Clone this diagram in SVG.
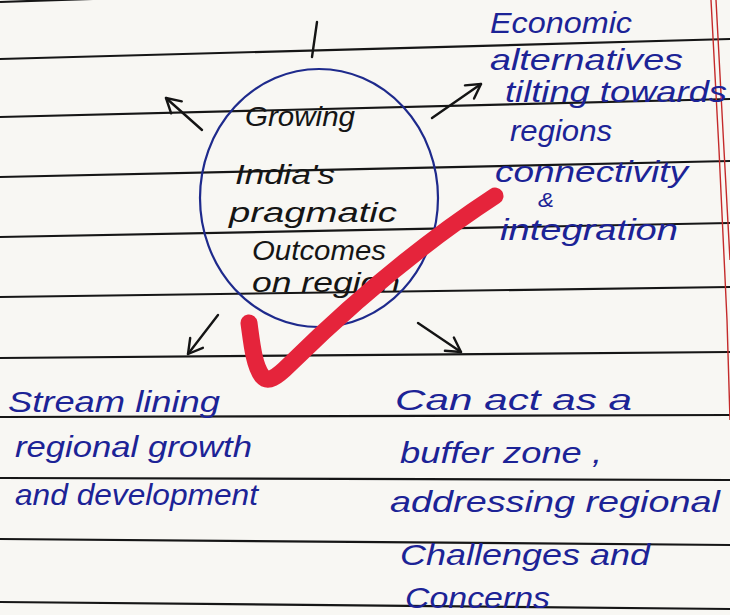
<svg xmlns="http://www.w3.org/2000/svg" width="730" height="615" viewBox="0 0 730 615">
  <defs>
    <style>
      .paper { fill: #f8f7f3; }
      .rule { stroke: #161616; stroke-width: 2.2; fill: none; }
      .margin { stroke: #c42a2a; stroke-width: 1.4; fill: none; }
      .conn { stroke: #141414; stroke-width: 2.4; fill: none; stroke-linecap: round; }
      .ink { font-family: "Liberation Sans", "DejaVu Sans", sans-serif; font-style: italic; }
      .blue { fill: #1c2396; font-size: 29px; }
      .black { fill: #151515; font-size: 27px; }
      .circle { fill: none; stroke: #1e2a8c; stroke-width: 2.2; }
      .check { fill: none; stroke: #e5243b; stroke-width: 17; stroke-linecap: round; stroke-linejoin: round; }
    </style>
    <marker id="head" viewBox="0 0 20 20" refX="17" refY="10" markerWidth="20" markerHeight="20" markerUnits="userSpaceOnUse" orient="auto">
      <path d="M3,2 L17,10 L3,18" fill="none" stroke="#141414" stroke-width="2.4" stroke-linecap="round" stroke-linejoin="round"/>
    </marker>
  </defs>

  <rect class="paper" x="0" y="0" width="730" height="615"/>

  <g id="ruled-lines">
    <path class="rule" d="M0,2 L300,-8"/>
    <path class="rule" d="M0,59 L730,39"/>
    <path class="rule" d="M0,117 L730,99"/>
    <path class="rule" d="M0,177 L730,161"/>
    <path class="rule" d="M0,237 L730,223"/>
    <path class="rule" d="M0,297 L730,287"/>
    <path class="rule" d="M0,358 L730,352"/>
    <path class="rule" d="M0,417 L730,415"/>
    <path class="rule" d="M0,478 L730,480"/>
    <path class="rule" d="M0,539 L730,545"/>
    <path class="rule" d="M0,602 L730,609"/>
  </g>
  <g id="margin">
    <path class="margin" d="M711,0 L719,150 L727,320 L730,420"/>
    <path class="margin" d="M716,0 L724,150 L730,260"/>
  </g>

  <g id="connectors">
    <path class="conn" d="M317,22 L312,57"/>
    <path class="conn" d="M202,130 L166,98" marker-end="url(#head)"/>
    <path class="conn" d="M432,118 L481,84" marker-end="url(#head)"/>
    <path class="conn" d="M218,315 L188,354" marker-end="url(#head)"/>
    <path class="conn" d="M418,323 L461,352" marker-end="url(#head)"/>
  </g>

  <g id="center">
    <ellipse class="circle" cx="319" cy="198" rx="119" ry="129"/>
    <text class="ink black" x="245" y="126" textLength="110" lengthAdjust="spacingAndGlyphs">Growing</text>
    <text class="ink black" x="235" y="184" textLength="100" lengthAdjust="spacingAndGlyphs">India's</text>
    <text class="ink black" x="229" y="222" textLength="168" lengthAdjust="spacingAndGlyphs">pragmatic</text>
    <text class="ink black" x="252" y="260" textLength="134" lengthAdjust="spacingAndGlyphs">Outcomes</text>
    <text class="ink black" x="252" y="292" textLength="148" lengthAdjust="spacingAndGlyphs">on region</text>
  </g>

  <g id="economic">
    <text class="ink blue" x="490" y="33" textLength="142" lengthAdjust="spacingAndGlyphs">Economic</text>
    <text class="ink blue" x="490" y="70" textLength="193" lengthAdjust="spacingAndGlyphs">alternatives</text>
    <text class="ink blue" x="505" y="102" textLength="222" lengthAdjust="spacingAndGlyphs">tilting towards</text>
    <text class="ink blue" x="510" y="141" textLength="102" lengthAdjust="spacingAndGlyphs">regions</text>
    <text class="ink blue" x="495" y="182" textLength="193" lengthAdjust="spacingAndGlyphs">connectivity</text>
    <text class="ink blue" x="538" y="207" style="font-size:20px" textLength="16" lengthAdjust="spacingAndGlyphs">&amp;</text>
    <text class="ink blue" x="500" y="240" textLength="178" lengthAdjust="spacingAndGlyphs">integration</text>
  </g>

  <g id="streamlining">
    <text class="ink blue" x="8" y="412" textLength="212" lengthAdjust="spacingAndGlyphs">Stream lining</text>
    <text class="ink blue" x="15" y="457" textLength="237" lengthAdjust="spacingAndGlyphs">regional growth</text>
    <text class="ink blue" x="15" y="505" textLength="243" lengthAdjust="spacingAndGlyphs">and development</text>
  </g>

  <g id="buffer">
    <text class="ink blue" x="395" y="410" textLength="237" lengthAdjust="spacingAndGlyphs">Can act as  a</text>
    <text class="ink blue" x="400" y="463" textLength="202" lengthAdjust="spacingAndGlyphs">buffer zone ,</text>
    <text class="ink blue" x="390" y="512" textLength="330" lengthAdjust="spacingAndGlyphs">addressing  regional</text>
    <text class="ink blue" x="400" y="565" textLength="250" lengthAdjust="spacingAndGlyphs">Challenges  and</text>
    <text class="ink blue" x="405" y="608" textLength="145" lengthAdjust="spacingAndGlyphs">Concerns</text>
  </g>

  <path id="checkmark" class="check" d="M249,323 C252,345 254,365 262,376 C268,383 276,378 290,364 C350,305 420,245 495,196"/>
</svg>
